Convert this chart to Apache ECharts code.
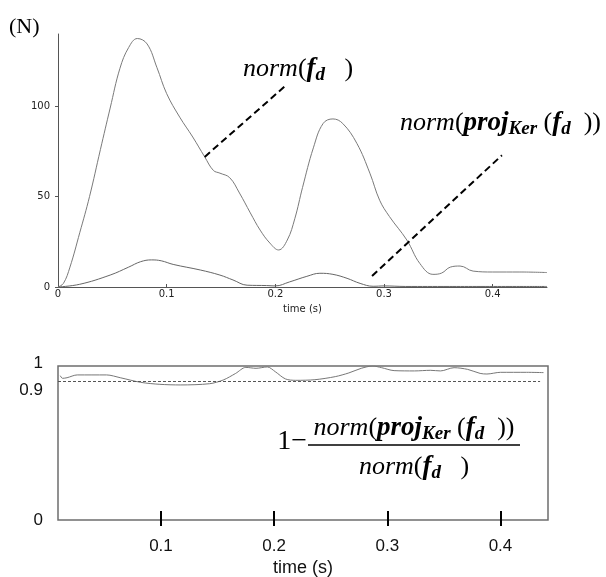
<!DOCTYPE html>
<html>
<head>
<meta charset="utf-8">
<script src="https://cdn.jsdelivr.net/npm/echarts@6/dist/echarts.min.js"></script>
<style>
  html, body { margin: 0; padding: 0; background: #fff; }
  #chart { width: 606px; height: 577px; }
</style>
</head>
<body>
<div id="chart"></div>
<script>
// norm(f_d): force magnitude over time (N)
const normTime  = [0, 0.005, 0.011, 0.020, 0.029, 0.039, 0.048, 0.057, 0.065, 0.073, 0.082, 0.091, 0.100, 0.112, 0.124, 0.135, 0.143, 0.149, 0.158, 0.167, 0.177, 0.186, 0.195, 0.203, 0.211, 0.218, 0.225, 0.235, 0.244, 0.253, 0.262, 0.275, 0.287, 0.296, 0.305, 0.321, 0.333, 0.345, 0.353, 0.361, 0.370, 0.382, 0.400, 0.425, 0.450];
const normForce = [0, 2, 11, 30, 50, 76, 99, 121, 132.5, 137.5, 134.5, 121.5, 107, 94, 83, 72, 64.5, 63, 60.5, 52, 41, 31.5, 24.3, 20.5, 26, 38, 55, 77, 90.5, 93, 90.5, 79.5, 63, 48, 39, 26, 13, 7, 7.7, 11, 11.6, 8.8, 8.3, 8.3, 8];

// norm(proj_Ker(f_d)): magnitude of the kernel projection (N)
const projTime  = [0, 0.020, 0.048, 0.065, 0.076, 0.086, 0.095, 0.106, 0.131, 0.149, 0.161, 0.174, 0.192, 0.200, 0.213, 0.229, 0.241, 0.253, 0.266, 0.278, 0.290, 0.300, 0.320, 0.360, 0.450];
const projForce = [0, 1.5, 6.6, 11, 14, 15, 14.5, 12.5, 9.4, 6.6, 3.9, 1, 0.8, 0.6, 2.8, 5.9, 7.6, 7, 4.8, 2, 0.4, 0.6, 0.3, 0.3, 0.3];

// 1 - norm(proj_Ker(f_d)) / norm(f_d)
const ratioTime  = [0.011, 0.013, 0.017, 0.026, 0.052, 0.064, 0.082, 0.099, 0.117, 0.143, 0.155, 0.166, 0.175, 0.184, 0.194, 0.201, 0.210, 0.219, 0.236, 0.254, 0.266, 0.277, 0.287, 0.295, 0.306, 0.324, 0.338, 0.347, 0.359, 0.371, 0.382, 0.388, 0.400, 0.423, 0.438];
const ratioValue = [0.937, 0.920, 0.924, 0.942, 0.942, 0.924, 0.894, 0.881, 0.877, 0.885, 0.909, 0.952, 0.991, 0.985, 0.994, 0.963, 0.916, 0.907, 0.911, 0.931, 0.955, 0.985, 1.0, 0.989, 0.970, 0.968, 0.972, 0.968, 0.989, 0.978, 0.952, 0.948, 0.959, 0.959, 0.957];

// axis ticks
const forceTicks      = [0, 50, 100];
const topTimeTicks    = [0, 0.1, 0.2, 0.3, 0.4];
const bottomTimeTicks = [0.1, 0.2, 0.3, 0.4];
const ratioTicks      = [0, 0.9, 1];
const ratioThreshold  = 0.9;

// leader lines from the formula labels to their curves: [start, end] in data units
const normLeader = [[0.135, 72], [0.2098, 111.6]];
const projLeader = [[0.289, 6.1], [0.4085, 72.9]];

const zip = (xs, ys) => xs.map((x, i) => [x, ys[i]]);

const serif = 'Liberation Serif';
const math = {
  n:  { fontFamily: serif, fontStyle: 'italic', fontSize: 26, lineHeight: 30, color: '#000' },
  p:  { fontFamily: serif, fontSize: 26, lineHeight: 30, color: '#000' },
  b:  { fontFamily: serif, fontStyle: 'italic', fontWeight: 'bold', fontSize: 27, lineHeight: 30, color: '#000' },
  s:  { fontFamily: serif, fontStyle: 'italic', fontWeight: 'bold', fontSize: 19, lineHeight: 30, padding: [12, 0, 0, 0], color: '#000' }
};
const normText = '{n|norm}{p|(}{b|f}{s|d}{p|   )}';
const projText = '{n|norm}{p|(}{b|proj}{s|Ker}{p| (}{b|f}{s|d}{p|  ))}';

const chart = echarts.init(document.getElementById('chart'), null, { renderer: 'canvas' });

const smallLabel = { fontFamily: 'DejaVu Sans', fontSize: 10, color: '#222' };
const bigLabel   = { fontFamily: 'Liberation Sans', fontSize: 17, color: '#111' };

chart.setOption({
  animation: false,
  backgroundColor: '#fff',
  grid: [
    { left: 58, right: 59, top: 34, height: 253, outerBoundsMode: 'none' },
    { left: 58, right: 58, top: 366, height: 154, outerBoundsMode: 'none',
      show: true, borderColor: '#6e6e6e', borderWidth: 1.5 }
  ],
  xAxis: [
    {
      type: 'value', gridIndex: 0, min: 0, max: 0.45,
      axisLine: { lineStyle: { color: '#555', width: 1 } },
      axisTick: { inside: true, length: 3, customValues: topTimeTicks, lineStyle: { color: '#555' } },
      axisLabel: { customValues: topTimeTicks, margin: 2, ...smallLabel, formatter: v => String(v) },
      splitLine: { show: false },
      name: 'time (s)', nameLocation: 'middle', nameGap: 17,
      nameTextStyle: { ...smallLabel }
    },
    {
      type: 'value', gridIndex: 1, min: 0.009, max: 0.442, position: 'bottom',
      axisLine: { show: false },
      axisTick: { inside: false, length: 6, customValues: bottomTimeTicks, lineStyle: { color: '#000', width: 2 } },
      axisLabel: { customValues: bottomTimeTicks, margin: 18, ...bigLabel, formatter: v => String(v) },
      splitLine: { show: false },
      name: 'time (s)', nameLocation: 'middle', nameGap: 39,
      nameTextStyle: { fontFamily: 'Liberation Sans', fontSize: 18, color: '#111' }
    },
    {
      type: 'value', gridIndex: 1, min: 0.009, max: 0.442, position: 'bottom',
      axisLine: { show: false },
      axisTick: { inside: true, length: 9, customValues: bottomTimeTicks, lineStyle: { color: '#000', width: 2 } },
      axisLabel: { show: false },
      splitLine: { show: false }
    }
  ],
  yAxis: [
    {
      type: 'value', gridIndex: 0, min: 0, max: 140,
      axisLine: { show: true, lineStyle: { color: '#555', width: 1 } },
      axisTick: { show: true, inside: false, length: 3, customValues: forceTicks, lineStyle: { color: '#555' } },
      axisLabel: { customValues: forceTicks, margin: 8, ...smallLabel },
      splitLine: { show: false }
    },
    {
      type: 'value', gridIndex: 1, min: 0, max: 1,
      axisLine: { show: false },
      axisTick: { show: false },
      axisLabel: {
        customValues: ratioTicks, margin: 15, ...bigLabel, verticalAlign: 'middle',
        formatter: v => v === 1 ? '{up|1}' : v === 0 ? '0' : '{dn|' + v + '}',
        rich: {
          up: { ...bigLabel, padding: [0, 0, 6, 0] },
          dn: { ...bigLabel, padding: [18, 0, 0, 0] }
        }
      },
      splitLine: { show: false }
    }
  ],
  series: [
    {
      name: 'norm(f_d)', type: 'line', xAxisIndex: 0, yAxisIndex: 0,
      data: zip(normTime, normForce), smooth: 0.4, showSymbol: false,
      lineStyle: { color: '#7a7a7a', width: 1 },
      markLine: {
        silent: true, symbol: 'none', label: { show: false },
        lineStyle: { color: '#000', width: 2, type: [7, 4] },
        data: [[{ coord: normLeader[0] }, { coord: normLeader[1] }]]
      }
    },
    {
      name: 'norm(proj_Ker(f_d))', type: 'line', xAxisIndex: 0, yAxisIndex: 0,
      data: zip(projTime, projForce), smooth: 0.4, showSymbol: false,
      lineStyle: { color: '#666', width: 1 },
      markLine: {
        silent: true, symbol: 'none', label: { show: false },
        lineStyle: { color: '#000', width: 2, type: [7, 4] },
        data: [[{ coord: projLeader[0] }, { coord: projLeader[1] }]]
      }
    },
    {
      name: 'ratio', type: 'line', xAxisIndex: 1, yAxisIndex: 1,
      data: zip(ratioTime, ratioValue), smooth: 0.3, showSymbol: false,
      lineStyle: { color: '#777', width: 1 },
      markLine: {
        silent: true, symbol: 'none', label: { show: false },
        lineStyle: { color: '#555', width: 1, type: [3, 2] },
        data: [[{ coord: [0.009, ratioThreshold] }, { coord: [0.435, ratioThreshold] }]]
      }
    }
  ],
  graphic: [
    { type: 'text', left: 9, top: 16, style: { text: '(N)', font: '22px "Liberation Serif"', fill: '#000' } },
    { type: 'text', x: 243, y: 69, style: { text: normText, rich: math, verticalAlign: 'middle', align: 'left' } },
    { type: 'text', x: 400, y: 123, style: { text: projText, rich: math, verticalAlign: 'middle', align: 'left' } },
    { type: 'text', x: 307, y: 442, style: { text: '1\u2212', font: '28px "Liberation Serif"', fill: '#000', align: 'right', verticalAlign: 'middle' } },
    { type: 'text', x: 414, y: 428, style: { text: projText, rich: math, verticalAlign: 'middle', align: 'center' } },
    { type: 'line', shape: { x1: 308, y1: 445, x2: 520, y2: 445 }, style: { stroke: '#000', lineWidth: 1.5 } },
    { type: 'text', x: 414, y: 467, style: { text: normText, rich: math, verticalAlign: 'middle', align: 'center' } }
  ]
});
</script>
</body>
</html>
